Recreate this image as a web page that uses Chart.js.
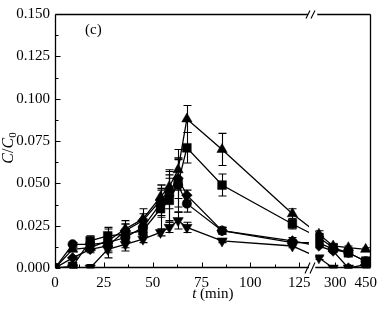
<!DOCTYPE html>
<html>
<head>
<meta charset="utf-8">
<script src="https://cdn.jsdelivr.net/npm/chart.js@4.4.1/dist/chart.umd.min.js"></script>
<style>
  html, body { margin: 0; padding: 0; background: #fff; }
  #wrap { width: 383px; height: 311px; }
</style>
</head>
<body>
<div id="wrap"><canvas id="chart" width="383" height="311"></canvas></div>
<script>
// sampling times (min); the last four sit on the right side of the axis break
const times = [0, 9, 18, 27, 36, 45, 54, 58.5, 63, 67.5, 85.5, 121.5, 220, 290, 365, 450];

// C/C0 values
const triUpVals   = [0, 0.011, 0.012, 0.016, 0.023, 0.029, 0.042, 0.048, 0.058, 0.088, 0.070, 0.032, 0.020, 0.013, 0.012, 0.011];
const squareVals  = [0, 0.001, 0.016, 0.019, 0.020, 0.022, 0.035, 0.040, 0.050, 0.071, 0.049, 0.026, 0.018, 0.012, 0.009, 0.004];
const circleVals  = [0, 0.014, 0.014, 0.015, 0.018, 0.024, 0.038, 0.043, 0.049, 0.038, 0.022, 0.015, 0.015, 0.011, 0.009, 0.004];
const diamondVals = [0, 0.006, 0.011, 0.013, 0.022, 0.028, 0.040, 0.045, 0.053, 0.043, 0.022, 0.016, 0.013, 0.010, 0.000, 0.002];
const triDownVals = [0, 0.000, 0.000, 0.011, 0.014, 0.017, 0.021, 0.024, 0.028, 0.024, 0.016, 0.013, 0.006, 0.000, 0.000, 0.000];

// error bar half widths
const triUpErr   = [0, 0.001, 0.002, 0.002, 0.003, 0.003, 0.007, 0.009, 0.012, 0.008, 0.0095, 0.003, 0.002, 0.001, 0.001, 0.001];
const squareErr  = [0, 0.001, 0.003, 0.004, 0.003, 0.004, 0.012, 0.013, 0.014, 0.009, 0.0065, 0.003, 0.002, 0.001, 0.001, 0.001];
const circleErr  = [0, 0.001, 0.002, 0.009, 0.008, 0.005, 0.008, 0.015, 0.016, 0.005, 0.002, 0.002, 0.001, 0.001, 0.001, 0.001];
const diamondErr = [0, 0.001, 0.002, 0.003, 0.006, 0.007, 0.009, 0.010, 0.012, 0.003, 0.002, 0.002, 0.001, 0.001, 0.001, 0.001];
const triDownErr = [0, 0.001, 0.002, 0.002, 0.002, 0.002, 0.002, 0.003, 0.005, 0.003, 0.001, 0.001, 0.001, 0.001, 0.001, 0.001];

const yTicks = [0, 0.025, 0.05, 0.075, 0.1, 0.125, 0.15];
const xTickTimes = [0, 25, 50, 75, 100, 125, 300, 450];
const xTickLabels = ['0', '25', '50', '75', '100', '125', '300', '450'];

// broken axis: 0-130 min linear, then a compressed segment from 200 min on
const BREAK_LO = 130;
const BREAK_HI = 133.2;
const toAxis = t => t <= BREAK_LO ? t : 143.4 + (t - 300) * 0.104;

const series = [
  { vals: triUpVals,   err: triUpErr,   style: 'triangle', rot: 0,   r: 6 },
  { vals: squareVals,  err: squareErr,  style: 'rect',     rot: 0,   r: 6.2 },
  { vals: circleVals,  err: circleErr,  style: 'circle',   rot: 0,   r: 4.7 },
  { vals: diamondVals, err: diamondErr, style: 'rectRot',  rot: 0,   r: 5.3 },
  { vals: triDownVals, err: triDownErr, style: 'triangle', rot: 180, r: 6 }
];

const FONT = 'Liberation Serif, Times New Roman, serif';
Chart.defaults.font.family = FONT;
Chart.defaults.font.size = 15;
Chart.defaults.color = '#000';

const errorBars = {
  id: 'errorBars',
  beforeDatasetsDraw(chart) {
    const ctx = chart.ctx;
    const y = chart.scales.y;
    ctx.save();
    ctx.strokeStyle = '#000';
    ctx.lineWidth = 1.1;
    chart.data.datasets.forEach((ds, di) => {
      const meta = chart.getDatasetMeta(di);
      meta.data.forEach((pt, i) => {
        const e = ds.errors[i];
        if (!e) return;
        const v = ds.data[i].y;
        const top = y.getPixelForValue(v + e);
        const bot = y.getPixelForValue(Math.max(0, v - e));
        const cx = Math.round(pt.x) + 0.5;
        ctx.beginPath();
        ctx.moveTo(cx, top); ctx.lineTo(cx, bot);
        ctx.moveTo(cx - 4, top); ctx.lineTo(cx + 4, top);
        ctx.moveTo(cx - 4, bot); ctx.lineTo(cx + 4, bot);
        ctx.stroke();
      });
    });
    ctx.restore();
  }
};

const frame = {
  id: 'frame',
  afterDatasetsDraw(chart) {
    const ctx = chart.ctx;
    const { left, right, top, bottom } = chart.chartArea;
    const x = chart.scales.x, y = chart.scales.y;
    const g0 = x.getPixelForValue(BREAK_LO);
    const g1 = x.getPixelForValue(BREAK_HI);
    ctx.save();
    // blank out the gap so the lines are cut at the break
    ctx.fillStyle = '#fff';
    ctx.fillRect(g0, top - 2, g1 - g0, bottom - top + 2);

    ctx.strokeStyle = '#000';
    ctx.lineWidth = 1.3;
    const L = Math.round(left) + 0.5, R = Math.round(right) - 0.5;
    const T = Math.round(top) + 0.5, B = Math.round(bottom) - 0.5;
    ctx.beginPath();
    ctx.moveTo(L, T); ctx.lineTo(L, B);
    ctx.moveTo(R, T); ctx.lineTo(R, B);
    ctx.moveTo(L, T); ctx.lineTo(g0 - 1, T);
    ctx.moveTo(g1 + 2, T); ctx.lineTo(R, T);
    ctx.moveTo(L, B); ctx.lineTo(g0, B);
    ctx.moveTo(g1, B); ctx.lineTo(R, B);
    ctx.stroke();

    // break marks
    ctx.lineWidth = 1.1;
    ctx.beginPath();
    [g0 - 1, g0 + 4].forEach(bx => {
      ctx.moveTo(bx - 2, T + 4); ctx.lineTo(bx + 2, T - 4);
      ctx.moveTo(bx - 3, B + 6); ctx.lineTo(bx + 2, B - 5);
    });
    ctx.stroke();

    // inward ticks
    ctx.lineWidth = 1;
    ctx.beginPath();
    xTickTimes.forEach(t => {
      const px = Math.round(x.getPixelForValue(toAxis(t))) + 0.5;
      ctx.moveTo(px, B); ctx.lineTo(px, B - 5);
    });
    for (let t = 12.5; t < BREAK_LO; t += 25) {
      const px = Math.round(x.getPixelForValue(t)) + 0.5;
      ctx.moveTo(px, B); ctx.lineTo(px, B - 3);
    }
    const m = Math.round(x.getPixelForValue(toAxis(375))) + 0.5;
    ctx.moveTo(m, B); ctx.lineTo(m, B - 3);
    yTicks.forEach(v => {
      const py = Math.round(y.getPixelForValue(v)) + 0.5;
      ctx.moveTo(L, py); ctx.lineTo(L + 5, py);
    });
    for (let v = 0.0125; v < 0.15; v += 0.025) {
      const py = Math.round(y.getPixelForValue(v)) + 0.5;
      ctx.moveTo(L, py); ctx.lineTo(L + 3, py);
    }
    ctx.stroke();

    // panel label
    ctx.fillStyle = '#000';
    ctx.font = '15px ' + FONT;
    ctx.textBaseline = 'middle';
    ctx.textAlign = 'left';
    ctx.fillText('(c)', 85, 30);

    // x title: t (min)
    const xt1 = 't', xt2 = ' (min)';
    ctx.font = 'italic 15px ' + FONT;
    const w1 = ctx.measureText(xt1).width;
    ctx.font = '15px ' + FONT;
    const w2 = ctx.measureText(xt2).width;
    let sx = (left + right) / 2 - (w1 + w2) / 2;
    ctx.font = 'italic 15px ' + FONT;
    ctx.fillText(xt1, sx, 294);
    ctx.font = '15px ' + FONT;
    ctx.fillText(xt2, sx + w1, 294);

    // y title: C/C0
    ctx.translate(9, 148);
    ctx.rotate(-Math.PI / 2);
    const parts = [
      { s: 'C', f: 'italic 16px ', dy: 0 },
      { s: '/', f: '16px ', dy: 0 },
      { s: 'C', f: 'italic 16px ', dy: 0 },
      { s: '0', f: '11px ', dy: 4 }
    ];
    let tw = 0;
    parts.forEach(p => { ctx.font = p.f + FONT; p.w = ctx.measureText(p.s).width; tw += p.w; });
    let cx = -tw / 2;
    parts.forEach(p => {
      ctx.font = p.f + FONT;
      ctx.fillText(p.s, cx, p.dy);
      cx += p.w;
    });
    ctx.restore();
  }
};

new Chart(document.getElementById('chart'), {
  type: 'line',
  data: {
    datasets: series.map(s => ({
      data: times.map((t, i) => ({ x: toAxis(t), y: s.vals[i] })),
      errors: s.err,
      borderColor: '#000',
      borderWidth: 1.3,
      backgroundColor: '#000',
      pointBackgroundColor: '#000',
      pointBorderColor: '#000',
      pointBorderWidth: 0.5,
      pointStyle: s.style,
      rotation: s.rot,
      pointRadius: s.r,
      tension: 0
    }))
  },
  options: {
    responsive: false,
    animation: false,
    devicePixelRatio: 1,
    layout: { padding: { top: 7, right: 7, left: 0, bottom: 0 } },
    plugins: { legend: { display: false }, tooltip: { enabled: false } },
    scales: {
      x: {
        type: 'linear',
        min: 0,
        max: 161.5,
        grid: { display: false, drawTicks: false },
        border: { display: false },
        afterBuildTicks: scale => { scale.ticks = xTickTimes.map(t => ({ value: toAxis(t) })); },
        afterFit: scale => { scale.height = 43; },
        ticks: {
          autoSkip: false,
          maxRotation: 0,
          padding: 6,
          callback: (v, i) => xTickLabels[i]
        }
      },
      y: {
        min: 0,
        max: 0.15,
        grid: { display: false, drawTicks: false },
        border: { display: false },
        afterBuildTicks: scale => { scale.ticks = yTicks.map(v => ({ value: v })); },
        afterFit: scale => { scale.width = 55; },
        ticks: {
          padding: 5,
          callback: v => v.toFixed(3)
        }
      }
    }
  },
  plugins: [errorBars, frame]
});
</script>
</body>
</html>
